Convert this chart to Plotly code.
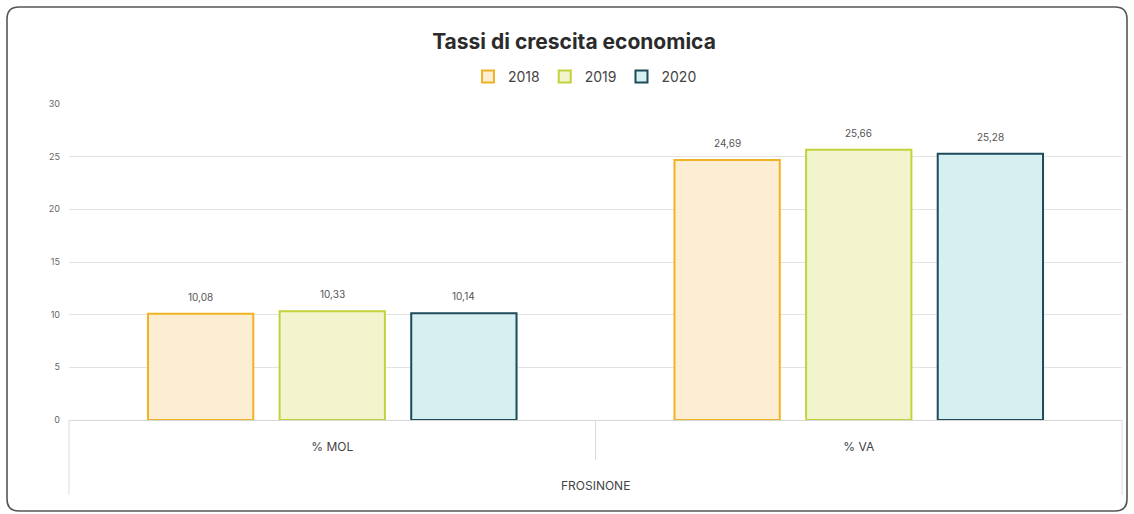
import plotly.graph_objects as go

categories = ["% MOL", "% VA"]
group_label = "FROSINONE"
years = ["2018", "2019", "2020"]
values_2018 = [10.08, 24.69]
values_2019 = [10.33, 25.66]
values_2020 = [10.14, 25.28]
series = [values_2018, values_2019, values_2020]
y_ticks = [0, 5, 10, 15, 20, 25, 30]

fills = ["#FDEDD3", "#F1F4CC", "#D6EFF0"]
lines = ["#F0B323", "#C3D13B", "#1D4B5C"]

FONT = "Inter, Open Sans, sans-serif"

W, H = 1134, 514
L, R, T, B = 69, 12, 104, 94
pw = W - L - R
ph = H - T - B
BARGAP = 0.25
slot_px = pw / len(categories) * (1 - BARGAP) / len(years)

def px(x):
    return (x - L) / pw

def py(y):
    return (H - B - y) / ph

fig = go.Figure()
annotations = []
for i, (yr, vals, fc, lc) in enumerate(zip(years, series, fills, lines)):
    fig.add_trace(go.Bar(
        x=categories, y=vals, name=yr,
        marker=dict(color=fc, line=dict(color=lc, width=2)),
    ))
    for c, v in zip(categories, vals):
        annotations.append(dict(
            x=c, y=v, xref="x", yref="y", text=f"{v:.2f}".replace(".", ","),
            showarrow=False, yanchor="middle", yshift=17,
            xshift=(i - (len(years) - 1) / 2) * slot_px,
            font=dict(size=10, color="#555555", family=FONT)))

annotations.append(dict(text=group_label, xref="paper", yref="paper", x=0.5, y=py(485),
                        showarrow=False, yanchor="middle",
                        font=dict(size=12, color="#444444", family=FONT)))

shapes = []
# outer rounded border
x0, x1, y0, y1 = px(7), px(1127), py(7), py(511)
rx, ry = 12 / pw, 12 / ph
path = (f"M {x0+rx},{y0} L {x1-rx},{y0} Q {x1},{y0} {x1},{y0-ry} "
        f"L {x1},{y1+ry} Q {x1},{y1} {x1-rx},{y1} L {x0+rx},{y1} "
        f"Q {x0},{y1} {x0},{y1+ry} L {x0},{y0-ry} Q {x0},{y0} {x0+rx},{y0} Z")
shapes.append(dict(type="path", xref="paper", yref="paper", path=path,
                   line=dict(color="#555555", width=1.6), layer="below"))
# category dividers
for xx, yb in [(0, 495), (0.5, 460), (1, 495)]:
    shapes.append(dict(type="line", xref="paper", yref="paper",
                       x0=xx, x1=xx, y0=0, y1=py(yb),
                       line=dict(color="#dcdcdc", width=1)))

fig.update_layout(
    width=W, height=H,
    margin=dict(l=L, r=R, t=T, b=B),
    paper_bgcolor="white", plot_bgcolor="white",
    separators=",.",
    font=dict(family=FONT, color="#444444"),
    title=dict(text="<b>Tassi di crescita economica</b>", x=574 / W, xanchor="center",
               y=1 - 42 / H, yanchor="middle",
               font=dict(size=21, color="#2b2b2b", family=FONT)),
    legend=dict(orientation="h", x=px(585), xanchor="center", y=py(77), yanchor="middle",
                font=dict(size=14, color="#444444", family=FONT),
                itemwidth=30, traceorder="normal", bgcolor="rgba(0,0,0,0)"),
    barmode="group", bargap=BARGAP, bargroupgap=0.2,
    showlegend=True,
    shapes=shapes,
    annotations=annotations,
)
fig.update_yaxes(range=[0, 30], tickvals=y_ticks, showgrid=True, gridcolor="#e3e3e3",
                 gridwidth=1, zeroline=False, showline=False,
                 tickfont=dict(size=9, color="#666666", family=FONT),
                 ticklabelstandoff=8)
fig.update_xaxes(type="category", showgrid=False, showline=True, linecolor="#d6d6d6",
                 linewidth=1, ticks="", tickfont=dict(size=12, color="#444444", family=FONT),
                 ticklabelstandoff=16)

fig.write_html("out.html", config={"displayModeBar": False},
               post_script="document.body.style.margin='0';document.body.style.overflow='hidden';")
